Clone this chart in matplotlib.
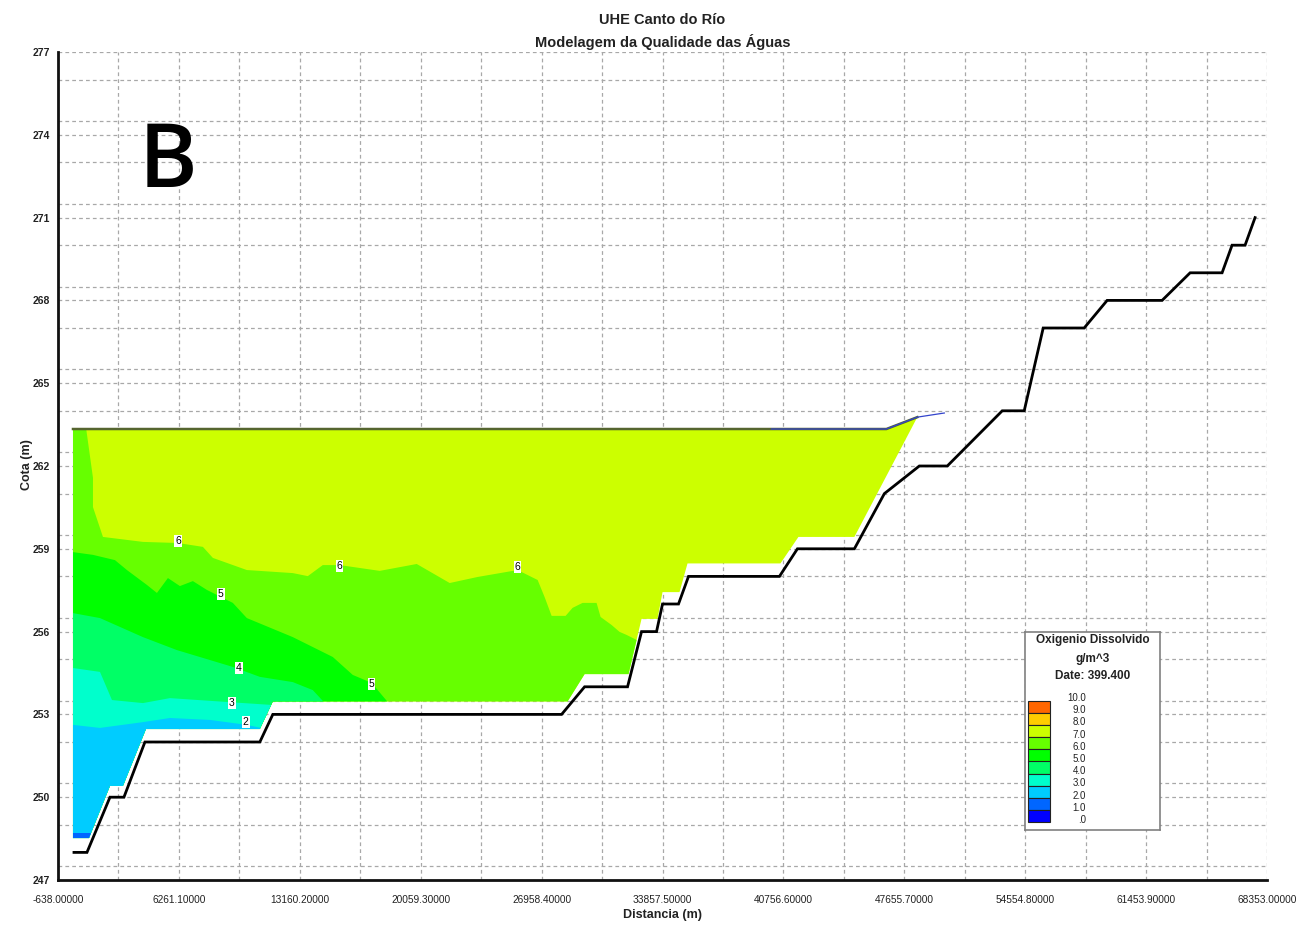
import numpy as np
import matplotlib
matplotlib.use('Agg')
from matplotlib import pyplot as plt
from matplotlib.patches import Polygon, Rectangle
from matplotlib.ticker import MultipleLocator

# axis ranges
x_min, x_max, x_step = -638.0, 68353.0, 6899.1
y_min, y_max, y_step = 247, 277, 3

# river bed profile (black line)
bed_x = [274, 1015, 2327, 3125, 4323, 10880, 11621, 28100, 29412, 31863, 32662, 33517,
         33859, 34771, 35342, 40531, 41557, 44807, 46519, 48513, 50109, 53245, 54499,
         55582, 57920, 59231, 62367, 63966, 65790, 66360, 67102, 67672]
bed_y = [248, 248, 250, 250, 252, 252, 253, 253, 254, 254, 256, 256,
         257, 257, 258, 258, 259, 259, 261, 262, 262, 264, 264,
         267, 267, 268, 268, 269, 269, 270, 270, 271]

# outline of the wetted section (filled area)
water_x = [217, 46633, 48399, 44807, 41614, 40588, 35285, 34828, 33859, 33574, 32662,
           31920, 29412, 28442, 11621, 10880, 4380, 3068, 2327, 1130, 217]
water_y = [263.34, 263.34, 263.77, 259.43, 259.43, 258.47, 258.47, 257.43, 257.43, 256.46, 256.46,
           254.46, 254.46, 253.47, 253.47, 252.47, 252.47, 250.41, 250.41, 248.52, 248.52]

# water surface
surf_x = [217, 46633, 48399]
surf_y = [263.34, 263.34, 263.77]
surf_blue_x = [40074, 46633, 48399, 49939]
surf_blue_y = [263.34, 263.34, 263.77, 263.92]

# contour boundaries (6, 5, 4, 3, 2, 1 g/m^3)
b6_x = [959, 1358, 1358, 1928, 4209, 6204, 7630, 8200, 10138, 12762, 13617, 14472, 15442,
        17722, 19832, 21714, 22512, 23310, 25591, 26732, 27131, 27530, 28328, 28727, 29297,
        30096, 30324, 30951, 31407, 31806, 32376, 32700]
b6_y = [263.40, 261.57, 260.51, 259.43, 259.25, 259.21, 259.07, 258.67, 258.23, 258.12, 258.01,
        258.41, 258.41, 258.20, 258.45, 257.76, 257.87, 257.98, 258.23, 257.87, 257.25, 256.57,
        256.57, 256.86, 257.04, 257.04, 256.53, 256.24, 255.99, 255.88, 255.70, 255.70]
b5_x = [217, 1358, 2612, 3296, 4437, 5007, 5634, 6318, 7060, 7858, 9339, 10138, 12762,
        15043, 16183, 17266, 18122, 18300]
b5_y = [258.88, 258.78, 258.59, 258.23, 257.69, 257.40, 257.94, 257.65, 257.83, 257.51,
        257.04, 256.49, 255.80, 255.08, 254.43, 254.14, 253.49, 253.2]
b4_x = [217, 1757, 4209, 6147, 9339, 10880, 12762, 13902, 14472, 14600]
b4_y = [256.67, 256.49, 255.80, 255.33, 254.72, 254.36, 254.17, 253.88, 253.49, 253.2]
b3_x = [217, 1757, 2441, 4209, 5748, 8998, 11621]
b3_y = [254.68, 254.54, 253.52, 253.41, 253.59, 253.45, 253.34]
b2_x = [217, 1757, 4209, 5748, 8029, 10138, 10950]
b2_y = [252.62, 252.51, 252.72, 252.87, 252.80, 252.62, 252.51]
b1_x = [217, 1187, 1300]
b1_y = [248.70, 248.70, 248.70]

band_colors = ['#ccff00', '#66ff00', '#00ff00', '#00ff66', '#00ffcc', '#00ccff', '#0066ff']

# contour labels
lab_text = ['6', '6', '6', '5', '5', '4', '3', '2']
lab_x = [6204, 15442, 25591, 8656, 17266, 9683, 9283, 10082]
lab_y = [259.28, 258.38, 258.34, 257.36, 254.10, 254.68, 253.41, 252.72]

# legend
leg_colors = ['#ff6600', '#ffcc00', '#ccff00', '#66ff00', '#00ff00', '#00ff66',
              '#00ffcc', '#00ccff', '#0066ff', '#0000ff']
leg_labels = ['10.0', '9.0', '8.0', '7.0', '6.0', '5.0', '4.0', '3.0', '2.0', '1.0', '.0']

sans = ['Liberation Sans', 'DejaVu Sans']

fig = plt.figure(figsize=(12.96, 9.27), dpi=100)
ax = fig.add_axes([58/1296, 1-880/927, (1267-58)/1296, (880-52)/927])
ax.set_xlim(x_min, x_max)
ax.set_ylim(y_min, y_max)

xt = x_min + x_step*np.arange(11)
ax.set_xticks(xt)
ax.set_xticklabels(['%.5f' % v for v in xt], fontsize=7.3, family=sans, color='#222222')
ax.set_xticks(xt[:-1] + x_step/2, minor=True)
ax.set_yticks(np.arange(y_min, y_max+1, y_step))
ax.set_yticklabels([str(v) for v in range(y_min, y_max+1, y_step)], fontsize=7.5,
                   family=sans, color='#222222', fontweight='bold')
ax.yaxis.set_minor_locator(MultipleLocator(1.5))
ax.tick_params(which='both', length=0)
ax.tick_params(axis='x', pad=11)
ax.tick_params(axis='y', pad=6)
ax.grid(which='both', color='#a8a8a8', linestyle=(0, (3, 2.5)), linewidth=0.9)
ax.set_axisbelow(True)
for s in ['top', 'right']:
    ax.spines[s].set_visible(False)
for s in ['left', 'bottom']:
    ax.spines[s].set_linewidth(2)
    ax.spines[s].set_color('#111111')

water = Polygon(np.column_stack([water_x, water_y]), closed=True,
                facecolor=band_colors[0], edgecolor='none', zorder=2)
ax.add_patch(water)

bounds = [(b6_x, b6_y), (b5_x, b5_y), (b4_x, b4_y), (b3_x, b3_y), (b2_x, b2_y), (b1_x, b1_y)]
for (bx, by), col in zip(bounds, band_colors[1:]):
    px = np.r_[-5000, bx, bx[-1], -5000]
    py = np.r_[by[0], by, 240, 240]
    poly = ax.fill(px, py, color=col, lw=0, zorder=3)[0]
    poly.set_clip_path(water)

ax.plot(surf_x, surf_y, color='#55652f', lw=1.8, zorder=4)
ax.plot(surf_blue_x, surf_blue_y, color='#3344cc', lw=0.9, zorder=4)
ax.plot(bed_x, bed_y, color='black', lw=2, zorder=5, solid_joinstyle='miter')

for t, x, y in zip(lab_text, lab_x, lab_y):
    ax.text(x, y, t, fontsize=7.5, family=sans, ha='center', va='center', zorder=6,
            bbox=dict(facecolor='white', edgecolor='none', pad=0.6))

ax.text(5634, 272.11, 'B', fontsize=64, family=['Open Sans', 'DejaVu Sans'],
        fontweight='semibold', ha='center', va='baseline', zorder=6)

fig.text(0.511, 1-20/927, 'UHE Canto do Río', ha='center', va='center',
         fontsize=10.5, fontweight='bold', family=sans, color='#222222')
fig.text(0.511, 1-42/927, 'Modelagem da Qualidade das Águas', ha='center', va='center',
         fontsize=10.5, fontweight='bold', family=sans, color='#222222')
fig.text(27/1296, 1-465/927, 'Cota (m)', rotation=90, ha='center', va='center',
         fontsize=9, fontweight='bold', family=sans, color='#222222')
fig.text(0.511, 1-915/927, 'Distancia (m)', ha='center', va='center',
         fontsize=9, fontweight='bold', family=sans, color='#222222')

# legend box
lax = fig.add_axes([1025/1296, 1-830/927, 135/1296, 198/927])
lax.set_xlim(0, 1)
lax.set_ylim(0, 1)
lax.set_xticks([])
lax.set_yticks([])
for s in lax.spines.values():
    s.set_color('#808080')
    s.set_linewidth(1.2)
lax.text(0.504, 0.96, 'Oxigenio Dissolvido', ha='center', va='center', fontsize=8.5,
         fontweight='bold', family=sans, color='#222222')
lax.text(0.504, 0.864, 'g/m^3', ha='center', va='center', fontsize=8.5,
         fontweight='bold', family=sans, color='#222222')
lax.text(0.504, 0.778, 'Date: 399.400', ha='center', va='center', fontsize=8.5,
         fontweight='bold', family=sans, color='#222222')
bh = 12.1/198
top = (830-701)/198
for i, c in enumerate(leg_colors):
    lax.add_patch(Rectangle((0.022, top - (i+1)*bh), 0.163, bh, facecolor=c,
                            edgecolor='#222222', lw=0.8))
for j, t in enumerate(leg_labels):
    lax.text(0.452, (830-(698+12.2*j))/198, t, ha='right', va='center', fontsize=7,
             family=sans, color='#222222')

fig.savefig('out.png', dpi=100)
